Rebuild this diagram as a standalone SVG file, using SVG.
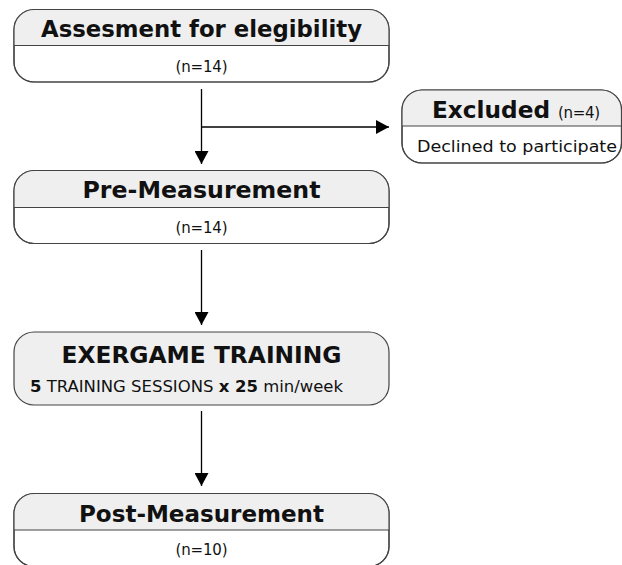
<svg xmlns="http://www.w3.org/2000/svg" width="622" height="565" viewBox="0 0 622 565">
<style>
.box{fill:#ffffff;stroke:#444444;stroke-width:1.2}
.hdr{fill:#efefef}
.div{stroke:#444444;stroke-width:1.2}
.t{font-family:"DejaVu Sans","Liberation Sans",sans-serif;font-weight:bold;fill:#111111;text-anchor:middle;font-size:23.3px}
.s{font-family:"DejaVu Sans","Liberation Sans",sans-serif;fill:#111111;text-anchor:middle;font-size:15px}
.c{stroke:#000000;stroke-width:1.3;fill:none}
</style>
<defs>
<marker id="ah" markerUnits="userSpaceOnUse" markerWidth="13" markerHeight="14" refX="13" refY="7" orient="auto">
<path d="M0,0 L13,7 L0,14 z" fill="#000000"/>
</marker>
<clipPath id="c1"><rect x="14" y="9.5" width="375" height="72.5" rx="20"/></clipPath>
<clipPath id="c2"><rect x="402" y="90" width="219.5" height="73" rx="20"/></clipPath>
<clipPath id="c3"><rect x="14" y="170.5" width="375" height="73" rx="20"/></clipPath>
<clipPath id="c5"><rect x="14" y="493.5" width="375" height="73" rx="20"/></clipPath>
</defs>
<g id="connectors">
<line class="c" x1="201.5" y1="89" x2="201.5" y2="164" marker-end="url(#ah)"/>
<line class="c" x1="201.5" y1="127" x2="389" y2="127" marker-end="url(#ah)"/>
<line class="c" x1="201.5" y1="250" x2="201.5" y2="325" marker-end="url(#ah)"/>
<line class="c" x1="201.5" y1="411" x2="201.5" y2="486" marker-end="url(#ah)"/>
</g>
<g id="assessment">
<rect class="box" x="14" y="9.5" width="375" height="72.5" rx="20"/>
<rect class="hdr" x="14" y="9.5" width="375" height="36" clip-path="url(#c1)"/>
<rect x="14" y="9.5" width="375" height="72.5" rx="20" fill="none" stroke="#444444" stroke-width="1.2"/>
<line class="div" x1="14" y1="45.5" x2="389" y2="45.5"/>
<text class="t" x="201.5" y="37" textLength="321" lengthAdjust="spacingAndGlyphs">Assesment for elegibility</text>
<text class="s" x="201.5" y="72" textLength="52">(n=14)</text>
</g>
<g id="excluded">
<rect class="box" x="402" y="90" width="219.5" height="73" rx="20"/>
<rect class="hdr" x="402" y="90" width="219.5" height="36" clip-path="url(#c2)"/>
<rect x="402" y="90" width="219.5" height="73" rx="20" fill="none" stroke="#444444" stroke-width="1.2"/>
<line class="div" x1="402" y1="126" x2="621.5" y2="126"/>
<text class="t" x="491" y="117.5" font-size="22" textLength="118" lengthAdjust="spacingAndGlyphs">Excluded</text>
<text class="s" x="579" y="117.5" textLength="42">(n=4)</text>
<text class="s" x="517" y="152" font-size="18" textLength="200" lengthAdjust="spacingAndGlyphs">Declined to participate</text>
</g>
<g id="pre">
<rect class="box" x="14" y="170.5" width="375" height="73" rx="20"/>
<rect class="hdr" x="14" y="170.5" width="375" height="37" clip-path="url(#c3)"/>
<rect x="14" y="170.5" width="375" height="73" rx="20" fill="none" stroke="#444444" stroke-width="1.2"/>
<line class="div" x1="14" y1="207.5" x2="389" y2="207.5"/>
<text class="t" x="201.5" y="198" textLength="238" lengthAdjust="spacingAndGlyphs">Pre-Measurement</text>
<text class="s" x="201.5" y="233" textLength="52">(n=14)</text>
</g>
<g id="training">
<rect x="14" y="332" width="375" height="73" rx="20" fill="#efefef" stroke="#444444" stroke-width="1.2"/>
<text class="t" x="201.5" y="363" textLength="280" lengthAdjust="spacingAndGlyphs">EXERGAME TRAINING</text>
<text class="s" x="186.5" y="392" font-size="16" textLength="313" lengthAdjust="spacingAndGlyphs"><tspan font-weight="bold">5</tspan> TRAINING SESSIONS <tspan font-weight="bold">x 25</tspan> min/week</text>
</g>
<g id="post">
<rect class="box" x="14" y="493.5" width="375" height="73" rx="20"/>
<rect class="hdr" x="14" y="493.5" width="375" height="36.5" clip-path="url(#c5)"/>
<rect x="14" y="493.5" width="375" height="73" rx="20" fill="none" stroke="#444444" stroke-width="1.2"/>
<line class="div" x1="14" y1="530" x2="389" y2="530"/>
<text class="t" x="201.5" y="521.5" textLength="245" lengthAdjust="spacingAndGlyphs">Post-Measurement</text>
<text class="s" x="201.5" y="555" textLength="52">(n=10)</text>
</g>
</svg>
